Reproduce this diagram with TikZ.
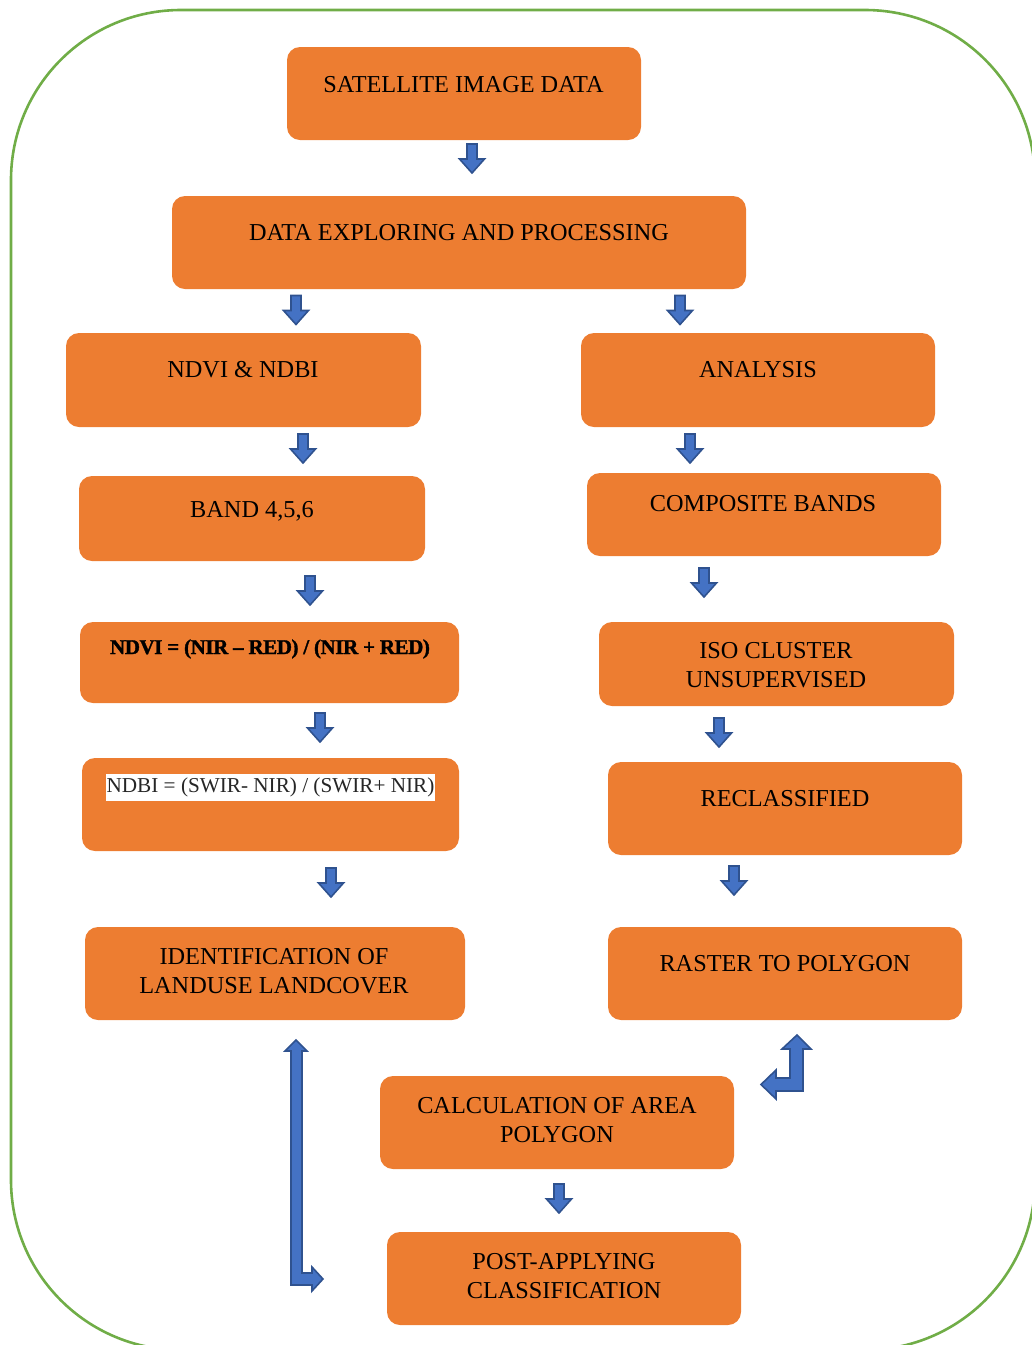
\documentclass[tikz,border=0pt]{standalone}
\usepackage{fontspec}
\setmainfont{Liberation Serif}
\definecolor{boxorange}{HTML}{ED7D31}
\definecolor{arrblue}{HTML}{4472C4}
\definecolor{arrdark}{HTML}{2F528F}
\definecolor{framegreen}{HTML}{70AD47}
\tikzset{
  box/.style={fill=boxorange, draw=none, rounded corners=13pt, inner sep=0pt},
  txt/.style={inner sep=0pt, font=\fontsize{24.3}{29.5}\selectfont, text=black, align=center},
  blk/.style={fill=arrblue, draw=arrdark, line width=1.6pt, line join=miter},
  downarr/.pic={\draw[blk] (-5,-14.5) -- (5,-14.5) -- (5,0.5) -- (12.5,0.5) -- (0,14.5) -- (-12.5,0.5) -- (-5,0.5) -- cycle;}
}
\begin{document}
\begin{tikzpicture}[x=1pt,y=-1pt]
\useasboundingbox (0,0) rectangle (1032,1345);
\clip (0,0) rectangle (1032,1345);
% frame
\draw[framegreen, line width=2.6pt, rounded corners=170pt] (11,10) rectangle (1035,1350);
% boxes
\node[box, minimum width=354pt, minimum height=93pt] (b1) at (464,93.5) {};
\node[box, minimum width=574pt, minimum height=93pt] (b2) at (459,242.5) {};
\node[box, minimum width=355pt, minimum height=94pt] (b3) at (243.5,380) {};
\node[box, minimum width=354pt, minimum height=94pt] (b4) at (758,380) {};
\node[box, minimum width=346pt, minimum height=85pt] (b5) at (252,518.5) {};
\node[box, minimum width=354pt, minimum height=83pt] (b6) at (764,514.5) {};
\node[box, minimum width=379pt, minimum height=81pt] (b7) at (269.5,662.5) {};
\node[box, minimum width=355pt, minimum height=84pt] (b8) at (776.5,664) {};
\node[box, minimum width=377pt, minimum height=93pt] (b9) at (270.5,804.5) {};
\node[box, minimum width=354pt, minimum height=93pt] (b10) at (785,808.5) {};
\node[box, minimum width=380pt, minimum height=93pt] (b11) at (275,973.5) {};
\node[box, minimum width=354pt, minimum height=93pt] (b12) at (785,973.5) {};
\node[box, minimum width=354pt, minimum height=93pt] (b13) at (557,1122.5) {};
\node[box, minimum width=354pt, minimum height=93pt] (b14) at (564,1278.5) {};
% texts
\node[txt, anchor=base] (t1) at (463.5,92) {SATELLITE IMAGE DATA};
\node[txt, anchor=base] (t2) at (459,240.5) {DATA EXPLORING AND PROCESSING};
\node[txt, anchor=base] (t3) at (243,377.5) {NDVI \& NDBI};
\node[txt, anchor=base] (t4) at (758,377.5) {ANALYSIS};
\node[txt, anchor=base] (t5) at (252,517.5) {BAND 4,5,6};
\node[txt, anchor=base] (t6) at (763,511.5) {COMPOSITE BANDS};
\node[txt, anchor=base, font=\fontsize{21}{24}\selectfont\bfseries\addfontfeature{FakeBold=1.5,LetterSpace=-2}] (t7) at (270,654) {NDVI = (NIR – RED) / (NIR + RED)};
\node[txt] (t8) at (776,665) {ISO CLUSTER\\UNSUPERVISED};
\node[txt, anchor=base, fill=white, inner ysep=4pt, inner xsep=1pt, text=black!85, font=\fontsize{21.2}{25}\selectfont] (t9) at (270.5,792.7) {NDBI = (SWIR- NIR) / (SWIR+ NIR)};
\node[txt, anchor=base] (t10) at (785,806.5) {RECLASSIFIED};
\node[txt] (t11) at (274,971) {IDENTIFICATION OF\\LANDUSE LANDCOVER};
\node[txt, anchor=base] (t12) at (785,971.5) {RASTER TO POLYGON};
\node[txt] (t13) at (557,1120) {CALCULATION OF AREA\\POLYGON};
\node[txt] (t14) at (564,1276) {POST-APPLYING\\CLASSIFICATION};
% down arrows
\pic at (472,158.5) {downarr};
\pic at (296,310) {downarr};
\pic at (680,310) {downarr};
\pic at (303,448.5) {downarr};
\pic at (690,448.5) {downarr};
\pic at (310,590.5) {downarr};
\pic at (704,582.5) {downarr};
\pic at (320,727.5) {downarr};
\pic at (719,732.5) {downarr};
\pic at (331,882.5) {downarr};
\pic at (734,880.5) {downarr};
\pic at (559,1198.5) {downarr};
% bent arrow near raster to polygon
\draw[blk] (797,1035) -- (811,1049) -- (803,1049) -- (803,1091) -- (776,1091) -- (776,1099)
  -- (761,1084.5) -- (776,1070) -- (776,1078) -- (790,1078) -- (790,1049) -- (782,1049) -- cycle;
% long arrow on the left
\draw[blk] (296,1040) -- (307,1051) -- (302,1051) -- (302,1273) -- (312,1273) -- (312,1267)
  -- (323,1279) -- (312,1291) -- (312,1285) -- (291,1285) -- (291,1051) -- (285,1051) -- cycle;
\end{tikzpicture}
\end{document}
